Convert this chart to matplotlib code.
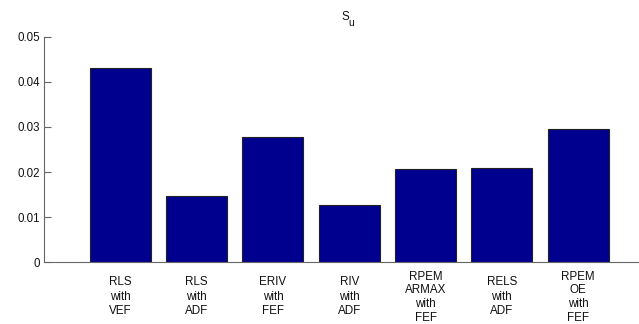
import numpy as np
import matplotlib
import matplotlib.pyplot as plt

matplotlib.use("Agg")

plt.rcParams['font.family'] = ['Liberation Sans', 'DejaVu Sans']

methods = ["RLS\nwith\nVEF", "RLS\nwith\nADF", "ERIV\nwith\nFEF",
           "RIV\nwith\nADF", "RPEM\nARMAX\nwith\nFEF", "RELS\nwith\nADF",
           "RPEM\nOE\nwith\nFEF"]
s_u = [0.0431, 0.0147, 0.0277, 0.0127, 0.0207, 0.0209, 0.0295]
y_ticks = [0, 0.01, 0.02, 0.03, 0.04, 0.05]
y_tick_labels = ["0", "0.01", "0.02", "0.03", "0.04", "0.05"]

fig = plt.figure(figsize=(6.39, 3.24), dpi=100)
# axes runs past the right edge, like a cropped export
ax = fig.add_axes([44 / 639, 61.7 / 324, 610.4 / 639, 225.6 / 324])

x = np.arange(1, len(s_u) + 1)
ax.bar(x, s_u, width=0.8, color="#00008f", edgecolor="#222222",
       linewidth=0.8, zorder=2)

ax.set_xlim(0, 8)
ax.set_ylim(0, 0.05)
ax.set_yticks(y_ticks)
ax.set_yticklabels(y_tick_labels)
ax.set_xticks([])

for side in ["top", "right"]:
    ax.spines[side].set_visible(False)
for side in ["left", "bottom"]:
    ax.spines[side].set_color("#666666")
    ax.spines[side].set_linewidth(0.8)
ax.tick_params(axis="y", direction="in", length=5, width=0.8,
               color="#666666", labelsize=8.3, pad=3, labelcolor="#111111")

for xi, name in zip(x, methods):
    # four-line labels sit a little higher
    n_lines = name.count("\n") + 1
    off = -6 if n_lines == 4 else -10
    spacing = 1.2 if n_lines == 4 else 1.27
    ax.annotate(name, xy=(xi, 0), xycoords=("data", "axes fraction"),
                xytext=(0, off), textcoords="offset points",
                ha="center", va="top", fontsize=8.4, linespacing=spacing,
                color="#111111")

# title S_u: main letter plus a lowered subscript
fig.text(341 / 639, 1 - 20.5 / 324, "S", ha="left", va="baseline",
         fontsize=8.5, color="#111111")
fig.text(348.5 / 639, 1 - 25.5 / 324, "u", ha="left", va="baseline",
         fontsize=7.5, color="#111111")

fig.savefig("out.png", dpi=100)
